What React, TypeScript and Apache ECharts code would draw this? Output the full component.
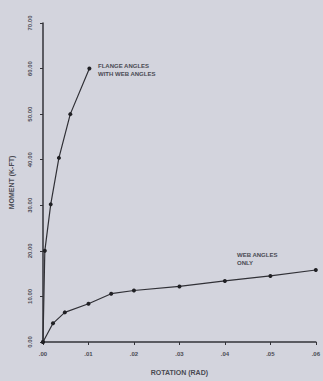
import React, { useEffect, useRef } from "react";
import * as echarts from "echarts";

const xTicks = [".00", ".01", ".02", ".03", ".04", ".05", ".06"];
const yTicks = ["0.00", "10.00", "20.00", "30.00", "40.00", "50.00", "60.00", "70.00"];
const flangeX = [0, 0.0004, 0.0017, 0.0035, 0.006, 0.0102];
const flangeY = [0, 20, 30.2, 40.4, 50, 60];
const webX = [0, 0.0022, 0.0048, 0.01, 0.015, 0.02, 0.03, 0.04, 0.05, 0.06];
const webY = [0, 4.1, 6.5, 8.4, 10.6, 11.3, 12.2, 13.4, 14.5, 15.8];

export default function App() {
  const ref = useRef<HTMLDivElement>(null);
  useEffect(() => {
    const chart = echarts.init(ref.current!, null, { renderer: "svg" });
    const textColor = "#4a4a52";
    const font = "Liberation Sans";
    chart.setOption({
      animation: false,
      backgroundColor: "#d3d4dd",
      grid: { left: 41, top: 23, right: 5, bottom: 34 },
      xAxis: {
        type: "value",
        min: 0,
        max: 0.06,
        interval: 0.01,
        name: "ROTATION (RAD)",
        nameLocation: "middle",
        nameGap: 27,
        nameTextStyle: { color: textColor, fontSize: 7, fontWeight: "bold", fontFamily: font },
        axisLine: { lineStyle: { color: "#333338", width: 1.5 } },
        axisTick: { show: true, length: 3, lineStyle: { color: "#333338" } },
        splitLine: { show: false },
        axisLabel: {
          color: textColor,
          fontSize: 6,
          fontWeight: "bold",
          fontFamily: font,
          margin: 9,
          formatter: (v: number) => xTicks[Math.round(v * 100)] ?? "",
        },
      },
      yAxis: {
        type: "value",
        min: 0,
        max: 70,
        interval: 10,
        name: "MOMENT (K-FT)",
        nameLocation: "middle",
        nameGap: 28,
        nameTextStyle: { color: textColor, fontSize: 7, fontWeight: "bold", fontFamily: font },
        axisLine: { show: true, lineStyle: { color: "#333338", width: 1.5 } },
        axisTick: { show: true, length: 3, lineStyle: { color: "#333338" } },
        splitLine: { show: false },
        axisLabel: {
          color: textColor,
          fontSize: 6,
          fontWeight: "bold",
          fontFamily: font,
          rotate: 90,
          margin: 10,
          formatter: (v: number) => yTicks[Math.round(v / 10)] ?? "",
        },
      },
      series: [
        {
          type: "line",
          data: flangeX.map((x, i) => [x, flangeY[i]]),
          symbol: "circle",
          symbolSize: 4,
          lineStyle: { color: "#303036", width: 1.2 },
          itemStyle: { color: "#202024" },
        },
        {
          type: "line",
          data: webX.map((x, i) => [x, webY[i]]),
          symbol: "circle",
          symbolSize: 4,
          lineStyle: { color: "#303036", width: 1.2 },
          itemStyle: { color: "#202024" },
        },
      ],
      graphic: [
        {
          type: "text",
          left: 98,
          top: 62,
          style: {
            text: "FLANGE ANGLES\nWITH WEB ANGLES",
            fill: textColor,
            font: `bold 6px "${font}"`,
            lineHeight: 8,
          },
        },
        {
          type: "text",
          left: 237,
          top: 251,
          style: {
            text: "WEB ANGLES\nONLY",
            fill: textColor,
            font: `bold 6px "${font}"`,
            lineHeight: 8,
          },
        },
      ],
    });
    return () => chart.dispose();
  }, []);
  return (
    <div
      ref={ref}
      style={{ position: "absolute", left: 0, top: 0, width: 323, height: 381 }}
    />
  );
}
